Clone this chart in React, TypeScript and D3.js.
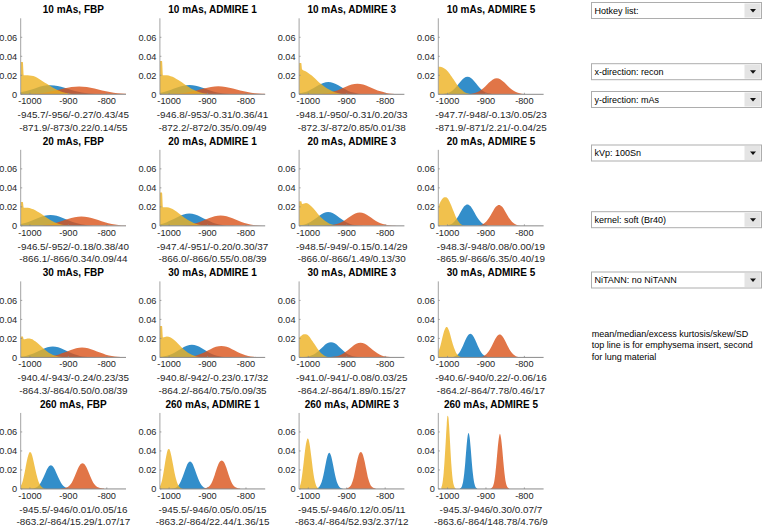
import React from 'react';
import * as d3 from 'd3';

// ---------- data ----------
const doses = ['10 mAs', '20 mAs', '30 mAs', '260 mAs'];
const recons = ['FBP', 'ADMIRE 1', 'ADMIRE 3', 'ADMIRE 5'];

const statsEmphysema = [
  '-945.7/-956/-0.27/0.43/45', '-946.8/-953/-0.31/0.36/41', '-948.1/-950/-0.31/0.20/33', '-947.7/-948/-0.13/0.05/23',
  '-946.5/-952/-0.18/0.38/40', '-947.4/-951/-0.20/0.30/37', '-948.5/-949/-0.15/0.14/29', '-948.3/-948/0.08/0.00/19',
  '-940.4/-943/-0.24/0.23/35', '-940.8/-942/-0.23/0.17/32', '-941.0/-941/-0.08/0.03/25', '-940.6/-940/0.22/-0.06/16',
  '-945.5/-946/0.01/0.05/16', '-945.5/-946/0.05/0.05/15', '-945.5/-946/0.12/0.05/11', '-945.3/-946/0.30/0.07/7',
];
const statsLung = [
  '-871.9/-873/0.22/0.14/55', '-872.2/-872/0.35/0.09/49', '-872.3/-872/0.85/0.01/38', '-871.9/-871/2.21/-0.04/25',
  '-866.1/-866/0.34/0.09/44', '-866.0/-866/0.55/0.08/39', '-866.0/-866/1.49/0.13/30', '-865.9/-866/6.35/0.40/19',
  '-864.3/-864/0.50/0.08/39', '-864.2/-864/0.75/0.09/35', '-864.2/-864/1.89/0.15/27', '-864.2/-864/7.78/0.46/17',
  '-863.2/-864/15.29/1.07/17', '-863.2/-864/22.44/1.36/15', '-863.4/-864/52.93/2.37/12', '-863.6/-864/148.78/4.76/9',
];

const xDomain = [-1024, -750];
const yDomain = [0, 0.08];
const xTicks = [-1000, -900, -800];
const yTicks = [0, 0.02, 0.04, 0.06];
const yTickLabels = ['0', '0.02', '0.04', '0.06'];

// densities in units of 1e-3, sampled from start (HU) with step (HU)
const blueStart = [-1090, -1075, -1052, -1020, -1074.5, -1067.5, -1040.5, -1008.3, -1052.4, -1044.8, -1021, -991.8, -996.7, -993.5, -980.7, -967.7];
const blueStep = [18, 16, 13, 9, 16, 15, 11.5, 7.5, 14, 13, 10, 6.4, 6.4, 6, 4.4, 2.8];
const blueValues = [
  [0.1, 0.2, 0.5, 1.3, 2.7, 4.5, 7.0, 8.9, 9.4, 8.7, 7.0, 4.6, 2.6, 1.3, 0.5, 0.2, 0.1],
  [0.1, 0.2, 0.5, 1.3, 2.7, 4.8, 7.1, 9.0, 9.8, 9.0, 7.1, 4.8, 2.7, 1.3, 0.5, 0.2, 0.1],
  [0.1, 0.3, 0.7, 1.8, 3.6, 6.3, 9.4, 12.0, 13.0, 12.0, 9.4, 6.3, 3.6, 1.8, 0.7, 0.3, 0.1],
  [0.1, 0.4, 1.0, 2.5, 5.1, 9.0, 13.4, 17.1, 18.5, 17.1, 13.4, 9.0, 5.1, 2.5, 1.0, 0.4, 0.1],
  [0.1, 0.2, 0.6, 1.6, 3.2, 5.6, 8.3, 10.6, 11.5, 10.6, 8.3, 5.6, 3.2, 1.6, 0.6, 0.2, 0.1],
  [0.1, 0.3, 0.7, 1.8, 3.6, 6.3, 9.4, 12.0, 13.0, 12.0, 9.4, 6.3, 3.6, 1.8, 0.7, 0.3, 0.1],
  [0.1, 0.3, 0.8, 2.0, 4.1, 7.2, 10.7, 13.6, 14.7, 13.6, 10.7, 7.2, 4.1, 2.0, 0.8, 0.3, 0.1],
  [0.1, 0.5, 1.3, 3.0, 6.3, 11.0, 16.3, 20.8, 22.5, 20.8, 16.3, 11.0, 6.3, 3.0, 1.3, 0.5, 0.1],
  [0.1, 0.2, 0.6, 1.6, 3.2, 5.6, 8.4, 10.7, 11.6, 10.7, 8.4, 5.6, 3.2, 1.6, 0.6, 0.2, 0.1],
  [0.1, 0.3, 0.7, 1.8, 3.7, 6.5, 9.7, 12.3, 13.3, 12.3, 9.7, 6.5, 3.7, 1.8, 0.7, 0.3, 0.1],
  [0.1, 0.3, 0.9, 2.2, 4.4, 7.8, 11.6, 14.8, 16.0, 14.8, 11.6, 7.8, 4.4, 2.2, 0.9, 0.3, 0.1],
  [0.2, 0.5, 1.4, 3.4, 7.0, 12.2, 18.2, 23.1, 25.0, 23.1, 18.2, 12.2, 7.0, 3.4, 1.4, 0.5, 0.2],
  [0.2, 0.5, 1.4, 3.4, 7.0, 12.2, 18.2, 23.1, 25.0, 23.1, 18.2, 12.2, 7.0, 3.4, 1.4, 0.5, 0.2],
  [0.2, 0.6, 1.6, 3.9, 8.1, 14.1, 21.1, 26.8, 29.0, 26.8, 21.1, 14.1, 8.1, 3.9, 1.6, 0.6, 0.2],
  [0.2, 0.8, 2.1, 5.1, 10.6, 18.5, 27.6, 35.1, 38.0, 35.1, 27.6, 18.5, 10.6, 5.1, 2.1, 0.8, 0.2],
  [0.4, 1.2, 3.3, 8.0, 16.4, 28.7, 42.8, 54.5, 59.0, 54.5, 42.8, 28.7, 16.4, 8.0, 3.3, 1.2, 0.4],
];

const orangeStart = [-1032, -1024, -992.3, -951.9, -1006, -990, -962, -926, -988.3, -976.2, -952.2, -920.2, -919.2, -911.2, -901.8, -887.6];
const orangeStep = [20, 19, 15, 10, 17.5, 15.5, 12, 7.5, 15.5, 14, 11, 7, 7, 6, 4.8, 3];
const orangeValues = [
  [0.05, 0.2, 0.5, 1.1, 2.3, 4.0, 6.0, 7.7, 8.3, 7.7, 6.0, 4.0, 2.3, 1.1, 0.5, 0.2, 0.05],
  [0.1, 0.2, 0.5, 1.1, 2.4, 4.1, 6.2, 7.8, 8.5, 7.8, 6.2, 4.1, 2.4, 1.1, 0.5, 0.2, 0.1],
  [0.1, 0.2, 0.6, 1.5, 3.1, 5.4, 8.0, 10.2, 11.0, 10.2, 8.0, 5.4, 3.1, 1.5, 0.6, 0.2, 0.1],
  [0.1, 0.3, 1.0, 2.3, 4.7, 8.3, 12.3, 15.7, 17.0, 15.7, 12.3, 8.3, 4.7, 2.3, 1.0, 0.3, 0.1],
  [0.1, 0.2, 0.5, 1.3, 2.7, 4.8, 7.1, 9.0, 9.8, 9.0, 7.1, 4.8, 2.7, 1.3, 0.5, 0.2, 0.1],
  [0.1, 0.2, 0.6, 1.5, 3.1, 5.4, 8.0, 10.2, 11.0, 10.2, 8.0, 5.4, 3.1, 1.5, 0.6, 0.2, 0.1],
  [0.1, 0.3, 0.8, 1.9, 3.9, 6.8, 10.2, 12.9, 14.0, 12.9, 10.2, 6.8, 3.9, 1.9, 0.8, 0.3, 0.1],
  [0.1, 0.4, 1.2, 3.0, 6.1, 10.7, 16.0, 20.3, 22.0, 20.3, 16.0, 10.7, 6.1, 3.0, 1.2, 0.4, 0.1],
  [0.1, 0.2, 0.6, 1.4, 2.9, 5.1, 7.6, 9.7, 10.5, 9.7, 7.6, 5.1, 2.9, 1.4, 0.6, 0.2, 0.1],
  [0.1, 0.2, 0.7, 1.6, 3.3, 5.8, 8.7, 11.1, 12.0, 11.1, 8.7, 5.8, 3.3, 1.6, 0.7, 0.2, 0.1],
  [0.1, 0.3, 0.9, 2.1, 4.3, 7.5, 11.3, 14.3, 15.5, 14.3, 11.3, 7.5, 4.3, 2.1, 0.9, 0.3, 0.1],
  [0.1, 0.5, 1.3, 3.2, 6.7, 11.7, 17.4, 22.2, 24.0, 22.2, 17.4, 11.7, 6.7, 3.2, 1.3, 0.5, 0.1],
  [0.4, 0.8, 1.6, 3.2, 6.6, 12.5, 19.5, 25.0, 27.0, 25.0, 19.5, 12.5, 6.6, 3.2, 1.6, 0.8, 0.4],
  [0.4, 0.8, 1.8, 4.0, 8.5, 15.0, 22.5, 28.0, 30.0, 28.0, 22.5, 15.0, 8.5, 4.0, 1.8, 0.8, 0.4],
  [0.4, 0.9, 2.2, 5.2, 11.0, 20.0, 29.5, 36.5, 39.0, 36.5, 29.5, 20.0, 11.0, 5.2, 2.2, 0.9, 0.4],
  [0.5, 1.2, 3.0, 7.5, 16.0, 28.0, 42.0, 53.0, 58.0, 53.0, 42.0, 28.0, 16.0, 7.5, 3.0, 1.2, 0.5],
];

// spike at the clipped -1024 HU edge (0 = none), spanning -1024..yellowEdgeEnd
const yellowEdge = [34, 35, 33, 0, 25, 35, 26, 0, 22, 33, 0, 0, 0, 0, 0, 0];
const yellowEdgeEnd = -1018.5;
const yellowStart = [-1016, -1016, -1016, -1024, -1016, -1016, -1016, -1024, -1016, -1016, -1024, -1024, -1024, -1024, -1022, -1016];
const yellowStep = [10, 10, 10, 5, 10, 10, 10, 4, 10, 10, 5, 3, 3, 3, 2, 2];
const yellowValues = [
  [20, 20, 19.5, 18.5, 16, 13.5, 11, 8.5, 6, 4, 2.4, 1.3, 0.6, 0.2, 0],
  [20, 20, 19, 17.5, 15, 12.5, 9.5, 7, 4.7, 2.9, 1.6, 0.8, 0.3, 0.1, 0],
  [26, 24, 21, 18, 14, 10.5, 7.5, 5, 3, 1.6, 0.7, 0.2, 0],
  [29, 29, 28.5, 27.5, 26, 24, 21.5, 18.5, 15.5, 12.5, 9.5, 7, 5, 3.3, 2, 1.1, 0.5, 0.2, 0],
  [19, 19, 18, 16.5, 14, 11.5, 8.5, 6, 3.8, 2.2, 1.1, 0.5, 0.1, 0],
  [19.5, 19.5, 18.5, 16.5, 13.5, 10.5, 7.5, 5, 3, 1.6, 0.8, 0.3, 0],
  [23, 24, 22, 18, 13, 8.5, 5, 2.6, 1.2, 0.5, 0.1, 0],
  [20, 24, 27, 29, 30, 30, 29, 26.5, 23, 19, 15, 11, 7.5, 4.8, 2.8, 1.5, 0.7, 0.3, 0],
  [19, 20, 19.5, 17, 13.5, 10, 6.5, 3.8, 2, 0.9, 0.3, 0],
  [21, 22, 21, 18, 14, 10, 6.5, 3.8, 2, 0.8, 0.2, 0],
  [21, 22.5, 24, 24.5, 24, 22.5, 20, 17, 14, 11, 8, 5.5, 3.5, 2, 1, 0.4, 0.1, 0],
  [6, 9, 13, 18, 23, 27.5, 30.5, 32, 31.5, 29, 25.5, 21, 16.5, 12.5, 9, 6, 3.8, 2.2, 1.2, 0.6, 0.2, 0],
  [3, 5.5, 9.5, 15, 21, 27.5, 33, 37, 39, 38, 35, 30, 24.5, 19, 14, 9.5, 6.2, 3.8, 2.2, 1.2, 0.6, 0.2, 0],
  [2.5, 5.5, 10, 16.5, 24, 31.5, 37.5, 41.5, 42, 39.5, 34.5, 28, 21.5, 15.5, 10.5, 6.5, 3.8, 2, 1, 0.4, 0],
  [3, 5.5, 9.5, 15, 21.5, 28.5, 35.5, 42, 47.5, 51, 53, 52.5, 50, 45.5, 39.5, 33, 26.5, 20, 14.5, 10, 6.5, 4, 2.3, 1.2, 0.6, 0.2, 0],
  [2, 4.5, 9.5, 17, 28, 41, 55, 68, 77, 76, 67, 53, 38.5, 25.5, 15.5, 8.5, 4.3, 2, 0.8, 0.3, 0],
];

const controls = ['Hotkey list:', 'x-direction: recon', 'y-direction: mAs', 'kVp: 100Sn', 'kernel: soft (Br40)', 'NiTANN: no NiTANN'];
const controlCenters = [10.5, 71.7, 99.5, 153, 219.7, 280];
const noteLines = ['mean/median/excess kurtosis/skew/SD', 'top line is for emphysema insert, second', 'for lung material'];

// ---------- layout / style ----------
const FONT = '"Liberation Sans", Arial, Helvetica, sans-serif';
const AX_LEFT0 = 20.7;
const COL_STEP = 139.2;
const AX_W = 105.3;
const BASE0 = 94.3;
const ROW_STEP = 131.55;
const AX_H = 76;

const BLUE = 'rgb(0,114,189)';
const ORANGE = 'rgb(217,83,25)';
const YELLOW = 'rgb(237,177,32)';
const ALPHA = 0.8;

function seriesPoints(start: number, step: number, vals: number[]): [number, number][] {
  return vals.map((v, i) => [start + i * step, v] as [number, number]);
}

function Panel({ idx }: { idx: number }) {
  const r = Math.floor(idx / 4);
  const c = idx % 4;
  const left = AX_LEFT0 + c * COL_STEP;
  const bottom = BASE0 + r * ROW_STEP;
  const x = d3.scaleLinear().domain(xDomain).range([left, left + AX_W]);
  const y = d3.scaleLinear().domain(yDomain).range([bottom, bottom - AX_H]);
  const area = d3
    .area<[number, number]>()
    .x((d) => x(d[0]))
    .y0(y(0))
    .y1((d) => y(d[1] / 1000))
    .curve(d3.curveMonotoneX);

  const blue = seriesPoints(blueStart[idx], blueStep[idx], blueValues[idx]);
  const orange = seriesPoints(orangeStart[idx], orangeStep[idx], orangeValues[idx]);
  let yellow = seriesPoints(yellowStart[idx], yellowStep[idx], yellowValues[idx]);
  if (yellowEdge[idx] > 0) {
    yellow = [[xDomain[0], yellowEdge[idx]], [yellowEdgeEnd, yellowEdge[idx]], ...yellow];
  }
  const clipId = `clip${idx}`;
  const cx = left + AX_W / 2;
  const axisColor = '#8a8a8a';
  const textColor = '#262626';
  return (
    <g>
      <defs>
        <clipPath id={clipId}>
          <rect x={x(xDomain[0])} y={y(yDomain[1])} width={AX_W} height={AX_H} />
        </clipPath>
      </defs>
      <g clipPath={`url(#${clipId})`}>
        <path d={area(blue) || ''} fill={BLUE} fillOpacity={ALPHA} />
        <path d={area(orange) || ''} fill={ORANGE} fillOpacity={ALPHA} />
        <path d={area(yellow) || ''} fill={YELLOW} fillOpacity={ALPHA} />
      </g>
      <line x1={left} x2={left} y1={y(yDomain[1])} y2={y(0)} stroke={axisColor} strokeWidth={0.8} />
      <line x1={left} x2={left + AX_W} y1={y(0)} y2={y(0)} stroke={axisColor} strokeWidth={1} />
      {yTicks.map((t, i) => (
        <g key={'y' + i}>
          <line x1={left} x2={left + 1.5} y1={y(t)} y2={y(t)} stroke={axisColor} strokeWidth={0.8} />
          <text x={left - 3.5} y={y(t)} dy="0.35em" textAnchor="end" fontSize={9.2} fill={textColor} fontFamily={FONT}>
            {yTickLabels[i]}
          </text>
        </g>
      ))}
      {xTicks.map((t, i) => (
        <g key={'x' + i}>
          <line x1={x(t)} x2={x(t)} y1={y(0)} y2={y(0) - 1.5} stroke={axisColor} strokeWidth={0.8} />
          <text x={x(t)} y={y(0) + 10} textAnchor="middle" fontSize={9.2} fill={textColor} fontFamily={FONT}>
            {String(t)}
          </text>
        </g>
      ))}
      <text x={cx} y={y(yDomain[1]) - 5} textAnchor="middle" fontSize={10} fontWeight="bold" fill="#000" fontFamily={FONT}>
        {`${doses[r]}, ${recons[c]}`}
      </text>
      <text x={cx} y={y(0) + 24} textAnchor="middle" fontSize={9.9} fill={textColor} fontFamily={FONT}>
        {statsEmphysema[idx]}
      </text>
      <text x={cx} y={y(0) + 36.4} textAnchor="middle" fontSize={9.9} fill={textColor} fontFamily={FONT}>
        {statsLung[idx]}
      </text>
    </g>
  );
}

function Dropdown({ label, cy }: { label: string; cy: number }) {
  const x0 = 591.5;
  const w = 170;
  const h = 16;
  const top = cy - h / 2;
  const bw = 17;
  const ax = x0 + w - bw / 2;
  return (
    <g>
      <rect x={x0} y={top} width={w} height={h} fill="#fff" stroke="#adadad" strokeWidth={1} />
      <rect x={x0 + w - bw} y={top + 1} width={bw - 1} height={h - 2} fill="#e4e4e4" />
      <path d={`M${ax - 3},${cy - 1.5} L${ax + 3},${cy - 1.5} L${ax},${cy + 2} Z`} fill="#111" />
      <text x={x0 + 3} y={cy} dy="0.35em" fontSize={9} fill="#000" fontFamily={FONT}>
        {label}
      </text>
    </g>
  );
}

export default function App() {
  return (
    <svg
      width={763}
      height={528}
      viewBox="0 0 763 528"
      style={{ position: 'absolute', left: 0, top: 0, background: '#fff' }}
    >
      <rect x={0} y={0} width={763} height={528} fill="#fff" />
      {d3.range(16).map((i) => (
        <Panel key={i} idx={i} />
      ))}
      {controls.map((c, i) => (
        <Dropdown key={c} label={c} cy={controlCenters[i]} />
      ))}
      {noteLines.map((t, i) => (
        <text key={i} x={591.7} y={336.7 + i * 11.7} fontSize={9} fill="#000" fontFamily={FONT}>
          {t}
        </text>
      ))}
    </svg>
  );
}
